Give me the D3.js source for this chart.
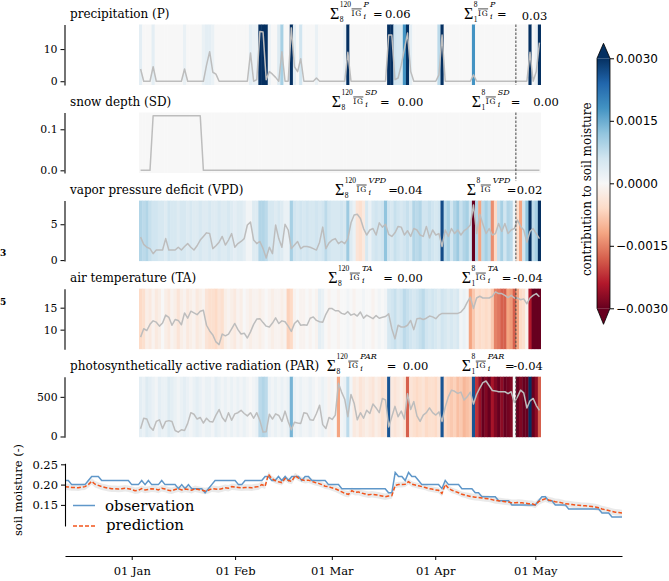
<!DOCTYPE html>
<html>
<head>
<meta charset="utf-8">
<script src="https://cdn.jsdelivr.net/npm/d3@7"></script>
<style>
  body { margin: 0; background: #fff; }
  svg text { font-family: "DejaVu Serif", serif; fill: #000; }
</style>
</head>
<body>
<svg id="fig" width="669" height="581"></svg>
<script>
// ---------- driver series: one value per day of the 128-day window ----------
const precipitation = [3.8,0,0,0,4.5, 0,0,0,0,0,0,0,0,0, 3.8, 0,0,0,0,0,0, 5,9.2,2.8,2.2,
  0,0,0,0,0,0,0,0,0,0, 8.8,0,0.5,15.5,15.3,0.5,3,2.2,1.2,0,9.2,0,0,16.6,4.5,3,7, 0,0,0,0, 1,
  0,0,0,0,0,0,0,0,0, 9, 0,0,0,0,0,0,0,0,0,0,0,0, 14.4,14.4,0.5,1,5,10,15,3,
  0,0,0,0,0,0,0,0, 2,14.4, 0,0,0,0,0,0,0,0,0, 2, 0,0,0,0,0,0,0,0,0,0,0,0,0,0,0,0,0, 9,0,3,12];

const snowDepth = [0,0,0,0,0.133,0.133,0.133,0.133,0.133,0.133,
  0.133,0.133,0.133,0.133,0.133,0.133,0.133,0.133,0.133,0.133,
  0,0,0,0,0,0,0,0,0,0, 0,0,0,0,0,0,0,0,0,0, 0,0,0,0,0,0,0,0,0,0,
  0,0,0,0,0,0,0,0,0,0, 0,0,0,0,0,0,0,0,0,0, 0,0,0,0,0,0,0,0,0,0,
  0,0,0,0,0,0,0,0,0,0, 0,0,0,0,0,0,0,0,0,0, 0,0,0,0,0,0,0,0,0,0,
  0,0,0,0,0,0,0,0,0,0, 0,0,0,0,0,0,0,0];

const vaporPressureDeficit = [3.2,2.2,1.8,1.6,0.9,1.4,1.4,1.4,3.0,1.4,
  1.4,1.4,1.8,1.4,1.9,2.3,1.8,1.4,2.0,2.8, 3.3,3.8,3.7,1.6,2.0,2.5,3.3,2.1,2.8,3.7,
  1.8,2.3,2.6,3.0,4.9,5.3,2.8,2.3,2.6,1.6, 0.3,1.8,0.9,4.9,3.0,1.8,5.0,4.2,1.6,2.1,
  2.6,1.6,1.9,1.9,1.8,1.6,1.4,2.5,4.6,1.6, 2.4,2.8,3.0,2.3,2.6,2.3,3.0,5.2,6.3,6.4,
  5.8,4.4,3.5,4.2,4.4,3.5,5.2,4.6,5.0,3.6, 3.3,3.8,4.7,4.6,3.5,4.1,3.3,4.4,4.2,3.5,
  3.3,4.7,3.1,4.2,3.5,3.7,1.9,4.2,3.3,4.4, 3.7,4.2,3.5,4.1,4.4,4.9,7.7,3.7,6.4,5.0,
  3.7,4.4,3.5,3.7,5.1,4.0,5.1,3.7,4.2,4.4, 5.6,4.7,4.2,2.5,4.0,4.4,3.7,3.0];

const airTemperature = [8.3,10.2,9.8,11.2,12.0,11.7,10.8,11.5,13.3,12.8,
  11.0,12.3,12.1,11.1,13.8,12.6,14.2,13.8,13.4,14.2, 14.4,11.0,9.7,8.8,7.2,6.6,9.0,8.6,9.0,10.2,
  11.4,10.0,9.0,9.2,8.1,9.5,11.2,12.4,12.5,11.6, 10.8,10.6,11.5,12.7,11.4,12.0,11.8,10.8,9.6,11.4,
  12.1,11.0,11.1,11.0,12.6,12.9,12.1,11.8,11.7,13.5, 14.8,14.8,14.3,14.3,13.7,13.5,14.1,13.3,13.6,13.1,
  14.0,12.6,13.3,12.9,12.5,13.2,12.6,12.8,13.0,13.6, 10.2,7.9,11.0,10.6,10.6,11.0,12.1,10.0,12.5,12.6,
  12.3,12.6,13.1,12.9,12.5,13.3,13.7,13.7,13.7,13.7, 13.7,13.7,14.0,14.8,16.2,17.4,14.8,17.2,17.6,17.2,
  17.2,17.2,17.6,18.6,18.2,18.2,17.8,17.3,17.8,17.2, 17.2,16.8,17.0,15.9,17.2,17.8,18.2,17.5];

const activeRadiation = [97,230,220,120,80,190,210,100,190,200,
  190,75,55,85,76,165,300,280,220,240, 170,230,190,182,270,340,240,190,300,205,
  285,300,330,290,260,300,230,300,200,55, 60,280,220,285,265,190,320,190,85,180,
  170,165,300,290,210,205,290,394,150,100, 240,215,270,670,560,470,250,530,420,210,
  300,230,330,290,410,360,300,480,460,120, 250,380,250,320,220,540,340,440,260,190,
  270,300,360,300,270,310,190,370,500,585, 570,543,560,460,500,560,410,530,610,680,
  700,640,580,575,564,564,564,540,564,430, 500,585,550,360,450,480,390,330];

// ---------- per-day contributions to soil moisture, in units of 1e-4 ----------
const igPrecipitation = [3,0,0,0,3,0,0,0,0,0, 0,0,0,0,2,0,0,0,0,0, 2,3,3,2,0,0,0,0,0,0,
  0,0,0,0,0,3,2,2,45,45, 45,2,0,0,4,10,0,0,40,3, 0,6,0,0,0,0,2,0,0,0,
  0,0,0,0,0,2,40,0,0,0, 0,0,0,0,0,0,0,0,0,40, 40,6,5,5,18,40,3,0,0,0,
  0,0,0,0,0,8,40,0,0,0, 0,0,0,0,0,0,18,0,0,0, 0,0,0,0,0,0,0,0,0,0, 0,0,0,0,40,0,2,40];

const igSnowDepth = [0,0,0,0,0,0,0,0,0,0, 0,0,0,0,0,0,0,0,0,0, 0,0,0,0,0,0,0,0,0,0,
  0,0,0,0,0,0,0,0,0,0, 0,0,0,0,0,0,0,0,0,0, 0,0,0,0,0,0,0,0,0,0, 0,0,0,0,0,0,0,0,0,0,
  0,0,0,0,0,0,0,0,0,0, 0,0,0,0,0,0,0,0,0,0, 0,0,0,0,0,0,0,0,0,0, 0,0,0,0,0,0,0,0,0,0,
  0,0,0,0,0,0,0,0,0,0, 0,0,0,0,0,0,0,0];

const igVaporPressureDeficit = [9,8,9,7,6,6,5,5,4,6, 5,5,4,5,5,4,5,4,4,5, 4,4,5,4,4,5,4,4,5,4,
  3,4,4,3,1,1,4,4,9,9, 8,5,5,4,5,4,2,2,10,6, 5,6,5,6,5,5,6,5,6,8, 6,5,5,5,6,5,11,4,2,-4,
  -5,-3,5,2,5,6,5,6,12,6, 5,7,6,5,6,7,5,9,8,9, 6,6,7,6,5,6,27,8,10,6,
  9,11,7,9,10,6,-30,9,-12,8, 10,8,-14,-6,7,10,6,9,8,1, -5,-12,6,12,32,8,10,32];

const igAirTemperature = [-6,-5,-2,-3,-1,-3,-2,0,-2,-3, -1,-2,-4,-2,-1,-3,-2,-1,-3,-2,
  -1,-4,-5,-5,-6,-4,-5,-2,-1,-2, -3,-1,-2,0,-1,-2,-1,-1,-2,-1, 0,-1,-2,-1,-1,-2,-1,-7,-6,-1,
  0,-1,-1,0,-1,0,-1,3,2,0, -1,0,0,-1,0,0,1,0,-1,0, 0,1,0,0,-1,0,1,0,1,5,
  6,7,5,6,8,7,6,5,6,7, 8,6,5,6,5,4,6,5,4,5, 4,5,1,2,1,-12,-8,-5,-6,-5,
  -6,-5,-8,-15,-16,-18,-18,-12,-13,-18, -12,-6,-5,-1,-24,-30,-30,-30];

const igActiveRadiation = [3,2,4,3,2,1,3,2,2,4, 3,2,1,2,3,2,1,2,3,2, 1,2,2,1,3,2,1,2,1,2,
  1,2,1,2,1,0,1,2,8,9, 8,2,1,2,1,2,1,2,14,2, 1,2,1,1,2,1,0,1,2,1, -1,1,0,-12,1,2,8,1,-3,-2,
  -4,-3,-2,-3,-4,-2,-3,-5,-4,26, -3,-4,-3,-2,-4,-18,-4,-5,-6,-5, -4,-6,-5,-5,-6,-4,26,-6,-7,-8,
  -7,-9,-8,-10,-9,-8,26,-22,-26,-30, -28,-30,-25,-28,-30,-27,-30,-29,-28,0, -30,-28,-30,-30,32,-30,-27,-18];

// summed contributions printed above each panel (lags 8-120 and 1-8)
const sumLongLag  = ["0.06", "0.00", "0.04", "0.00", "0.00"];
const sumShortLag = ["0.03", "0.00", "0.02", "-0.04", "-0.04"];

// ---------- daily soil moisture, starting 12 Dec 2019 ----------
const soilObserved = [.21,.21,.20,.20,.20,.20,.20,.21,.22,.22, .22,.21,.21,.21,.21,.21,.21,.21,.21,.21,
  .20,.20,.20,.21,.20,.21,.20,.20,.20,.21, .20,.20,.20,.20,.19,.20,.19,.20,.19,.19,
  .19,.19,.18,.19,.20,.21,.21,.21,.21,.21, .21,.21,.20,.20,.21,.21,.21,.21,.21,.21,
  .22,.22,.21,.21,.22,.21,.22,.21,.22,.22, .22,.21,.22,.22,.21,.21,.21,.21,.21,.20,
  .20,.20,.20,.19,.19,.19,.19,.19,.19,.19, .19,.19,.19,.19,.19,.19,.19,.18,.18,.23,
  .22,.22,.21,.23,.22,.22,.21,.20,.20,.20, .20,.20,.20,.19,.21,.20,.20,.20,.20,.19,
  .19,.19,.19,.18,.18,.17,.17,.17,.17,.17, .16,.16,.16,.16,.15,.15,.15,.15,.15,.15,
  .15,.15,.16,.17,.17,.16,.16,.15,.15,.15, .15,.14,.14,.14,.14,.14,.14,.14,.14,.14,
  .14,.13,.13,.13,.12,.12,.12,.12];

const soilPredicted = [.195,.194,.193,.193,.192,.194,.195,.200,.208,.201, .198,.195,.193,.191,.190,.190,.189,.190,.191,.190,
  .188,.185,.186,.190,.187,.188,.190,.189,.187,.191, .189,.186,.185,.188,.190,.187,.189,.188,.186,.190,
  .188,.186,.184,.186,.190,.189,.188,.190,.192,.191, .195,.194,.193,.192,.193,.193,.192,.194,.195,.200,
  .196,.225,.215,.210,.207,.205,.215,.210,.208,.222, .216,.212,.210,.211,.208,.205,.203,.200,.196,.195,
  .192,.190,.186,.182,.178,.176,.185,.181,.182,.179, .177,.175,.176,.175,.174,.172,.170,.172,.173,.198,
  .200,.200,.201,.207,.201,.199,.197,.195,.193,.190, .189,.187,.186,.178,.200,.191,.186,.183,.180,.176,
  .174,.172,.170,.169,.168,.167,.166,.165,.163,.161, .160,.159,.158,.157,.155,.155,.156,.155,.154,.153,
  .153,.150,.158,.162,.165,.162,.160,.158,.157,.155, .153,.152,.151,.150,.149,.148,.148,.147,.146,.145,
  .143,.140,.138,.136,.134,.132,.131,.130];

// half-width of the prediction band, in units of 1e-3
const predictionSpread = [8,8,8,8,8,8,8,8,8,8, 8,8,8,8,8,8,8,8,8,8, 8,8,8,8,8,8,8,8,8,8,
  8,8,8,8,8,8,8,8,8,8, 8,8,8,8,8,8,8,8,8,8, 8,8,8,8,8,8,8,8,8,8,
  7,7,7,7,7,7,7,7,7,7, 7,7,7,7,7,7,7,7,7,7, 7,8,8,8,8,8,8,8,8,8,
  8,8,8,8,8,8,8,8,8,7, 7,7,7,7,7,7,7,7,7,7, 7,7,7,7,7,7,7,7,7,7,
  7,8,8,8,8,8,8,8,8,8, 8,8,8,8,8,8,8,8,8,8, 8,8,8,8,8,8,8,8,8,8,
  8,8,8,8,8,8,8,8,8,8, 8,8,8,8,8,8,8,8];

const monthTicks = ["2020-01-01", "2020-02-01", "2020-03-01", "2020-04-01", "2020-05-01"];
const colorbarTicks = [-0.003, -0.0015, 0, 0.0015, 0.003];

// ---------- drawing ----------
const svg = d3.select("#fig");
const nCells = precipitation.length;
const cellX = d3.scaleLinear().domain([0, nCells]).range([139, 541]);

// diverging red-white-blue map, positive contributions in blue
const rdbuStops = ["#67001f","#b2182b","#d6604d","#f4a582","#fddbc7","#f7f7f7",
                   "#d1e5f0","#92c5de","#4393c3","#2166ac","#053061"];
const contribColor = d3.scaleLinear()
  .domain(d3.range(rdbuStops.length).map(i => -0.003 + 0.006 * i / (rdbuStops.length - 1)))
  .range(rdbuStops).interpolate(d3.interpolateRgb).clamp(true);

const panels = [
  { title: "precipitation (P)", name: "P", values: precipitation, ig: igPrecipitation,
    domain: [-1.17, 17.65], ticks: [0, 10], fmt: d3.format("d"),
    pos: [330, 373, 385, 464, 497, 521.7], valDy: 2.2, lower2: true },
  { title: "snow depth (SD)", name: "SD", values: snowDepth, ig: igSnowDepth,
    domain: [-0.0066, 0.1408], ticks: [0, 0.1], fmt: d3.format(".1f"),
    pos: [331.7, 380, 397.7, 471.7, 510.7, 533.3], valDy: 0, lower2: true, vlineExtra: 8 },
  { title: "vapor pressure deficit (VPD)", name: "VPD", values: vaporPressureDeficit, ig: igVaporPressureDeficit,
    domain: [-0.14, 8.3], ticks: [0, 5], fmt: d3.format("d"),
    pos: [335, 388.3, 397, 466.7, 506.7, 516.7], valDy: 0, lower2: false },
  { title: "air temperature (TA)", name: "TA", values: airTemperature, ig: igAirTemperature,
    domain: [5.56, 19.33], ticks: [10, 15], fmt: d3.format("d"),
    pos: [328.3, 383.3, 397.3, 461.7, 501.7, 513.3], valDy: 0, lower2: true },
  { title: "photosynthetically active radiation (PAR)", name: "PAR", values: activeRadiation, ig: igActiveRadiation,
    domain: [-9, 754], ticks: [0, 500], fmt: d3.format("d"),
    pos: [326.7, 386.7, 402.7, 461.7, 505, 513.3], valDy: 0, lower2: true }
];

function drawSum(g, x, yb, lo, hi, name, eqX, valX, val, valDy, showLower) {
  const t = g.append("g");
  t.append("text").attr("x", x).attr("y", yb + 0.5)
    .style("font-family", "Liberation Serif").attr("font-size", 16).text("Σ");
  const hiT = t.append("text").attr("x", x + 9.8).attr("y", yb - 11)
    .style("font-family", "Liberation Serif").attr("font-size", 7.5).text(hi);
  let loW = 0;
  if (showLower) {
    const loT = t.append("text").attr("x", x + 9.8).attr("y", yb + 3.4)
      .style("font-family", "Liberation Serif").attr("font-size", 7.5).text(lo);
    loW = loT.node().getComputedTextLength();
  }
  const igX = x + 9.8 + Math.max(hiT.node().getComputedTextLength(), loW) + 0.5;
  const ig = t.append("text").attr("x", igX).attr("y", yb - 2)
    .attr("font-size", 7.5).attr("letter-spacing", 0.8).text("IG");
  const igW = ig.node().getComputedTextLength();
  t.append("line").attr("x1", igX).attr("x2", igX + igW - 0.5)
    .attr("y1", yb - 9.3).attr("y2", yb - 9.3).attr("stroke", "#000").attr("stroke-width", 0.7);
  const nx = igX + igW + 1.5;
  t.append("text").attr("x", nx).attr("y", yb - 11).attr("font-size", 8)
    .attr("font-style", "italic").text(name);
  if (showLower) {
    t.append("text").attr("x", nx).attr("y", yb + 1).attr("font-size", 8)
      .attr("font-style", "italic").text("i");
  }
  t.append("text").attr("x", eqX).attr("y", yb).attr("font-size", 11.5).text("=");
  t.append("text").attr("x", valX).attr("y", yb + valDy).attr("font-size", 11.5).text(val);
}

panels.forEach((p, k) => {
  const y0 = 24.5 + 88.05 * k, h = 60.5;
  const y = d3.scaleLinear().domain(p.domain).range([y0 + h, y0]);
  const g = svg.append("g");
  const yb = y0 - 6.3;

  // summed-contribution annotations (drawn first so the heatmap sits above them)
  drawSum(g, p.pos[0], yb, "8", "120", p.name, p.pos[1], p.pos[2], sumLongLag[k], 0, true);
  drawSum(g, p.pos[3], yb, "1", "8", p.name, p.pos[4], p.pos[5], sumShortLag[k], p.valDy, p.lower2);

  // heatmap of daily contributions
  g.append("g").selectAll("rect").data(p.ig).join("rect")
    .attr("x", (d, i) => cellX(i))
    .attr("y", y0)
    .attr("width", (d, i) => cellX(i + 1) - cellX(i) + (i < nCells - 1 ? 0.4 : 0))
    .attr("height", h)
    .attr("fill", d => contribColor(d * 1e-4));

  // driver time series
  g.append("path").datum(p.values)
    .attr("fill", "none").attr("stroke", "#bdbdbd").attr("stroke-width", 1.5)
    .attr("stroke-linejoin", "round")
    .attr("d", d3.line().x((d, i) => cellX(i + 0.5)).y(d => y(d)));

  // boundary between the two lag windows
  const xb = cellX(nCells - 8);
  g.append("line").attr("x1", xb).attr("x2", xb)
    .attr("y1", y0).attr("y2", y0 + h + (p.vlineExtra || 0))
    .attr("stroke", "#444").attr("stroke-width", 1).attr("stroke-dasharray", "2.5,1.5");

  // left axis
  const ax = g.append("g").attr("transform", "translate(64.5,0)")
    .call(d3.axisLeft(y).tickValues(p.ticks).tickFormat(p.fmt).tickSize(4).tickSizeOuter(0).tickPadding(3));
  ax.select(".domain").attr("stroke", "#000").attr("stroke-width", 1.1);
  ax.selectAll(".tick line").attr("stroke", "#000").attr("stroke-width", 1);
  ax.selectAll(".tick text").style("font-family", "DejaVu Serif").attr("font-size", 10.8).attr("fill", "#000");

  g.append("text").attr("x", 70).attr("y", yb).attr("font-size", 12).text(p.title);
});

// small glyphs at the left margin
svg.append("text").attr("x", 0).attr("y", 255.5)
  .attr("font-size", 9).attr("font-weight", "bold").text("3");
svg.append("text").attr("x", 0).attr("y", 305)
  .attr("font-size", 9).attr("font-weight", "bold").text("5");

// ---------- colorbar ----------
const cbX0 = 597, cbX1 = 610, cbTop = 58.3, cbBot = 308.3;
const cbY = d3.scaleLinear().domain([-0.003, 0.003]).range([cbBot, cbTop]);
const defs = svg.append("defs");
const grad = defs.append("linearGradient").attr("id", "cbgrad")
  .attr("x1", 0).attr("y1", 1).attr("x2", 0).attr("y2", 0);
d3.range(0, 1.0001, 0.02).forEach(t => {
  grad.append("stop").attr("offset", t).attr("stop-color", contribColor(-0.003 + 0.006 * t));
});
const cb = svg.append("g");
cb.append("rect").attr("x", cbX0).attr("y", cbTop).attr("width", cbX1 - cbX0)
  .attr("height", cbBot - cbTop).attr("fill", "url(#cbgrad)");
const cbMid = (cbX0 + cbX1) / 2;
cb.append("path").attr("d", `M${cbX0},${cbTop}L${cbMid},${cbTop - 15}L${cbX1},${cbTop}Z`)
  .attr("fill", contribColor(0.003));
cb.append("path").attr("d", `M${cbX0},${cbBot}L${cbMid},${cbBot + 16}L${cbX1},${cbBot}Z`)
  .attr("fill", contribColor(-0.003));
cb.append("path")
  .attr("d", `M${cbX0},${cbTop}L${cbMid},${cbTop - 15}L${cbX1},${cbTop}L${cbX1},${cbBot}L${cbMid},${cbBot + 16}L${cbX0},${cbBot}Z`)
  .attr("fill", "none").attr("stroke", "#000").attr("stroke-width", 0.8);
const cbAx = cb.append("g").attr("transform", `translate(${cbX1},0)`)
  .call(d3.axisRight(cbY).tickValues(colorbarTicks).tickFormat(d3.format(".4f")).tickSize(4).tickPadding(2));
cbAx.select(".domain").remove();
cbAx.selectAll(".tick line").attr("stroke", "#000");
cbAx.selectAll(".tick text").style("font-family", "DejaVu Sans").attr("font-size", 12).attr("fill", "#000");
cb.append("text").attr("transform", `translate(591,${(cbTop + cbBot) / 2 + 6}) rotate(-90)`)
  .attr("text-anchor", "middle").attr("font-size", 12).text("contribution to soil moisture");

// ---------- soil moisture panel ----------
const startDay = new Date(2019, 11, 12);
const days = soilObserved.map((d, i) => d3.timeDay.offset(startDay, i));
const xTime = d3.scaleTime().domain([days[0], days[days.length - 1]]).range([65, 622]);
const ySoil = d3.scaleLinear().domain([0.098, 0.2525]).range([526, 463.3]);
const sm = svg.append("g");

sm.append("path").datum(soilPredicted)
  .attr("fill", "#d9d9d9").attr("fill-opacity", 0.55)
  .attr("d", d3.area().x((d, i) => xTime(days[i]))
    .y0((d, i) => ySoil(d - predictionSpread[i] * 1e-3))
    .y1((d, i) => ySoil(d + predictionSpread[i] * 1e-3)));

sm.append("path").datum(soilObserved)
  .attr("fill", "none").attr("stroke", "#5f97c9").attr("stroke-width", 1.5)
  .attr("d", d3.line().x((d, i) => xTime(days[i])).y(d => ySoil(d)));
sm.append("path").datum(soilPredicted)
  .attr("fill", "none").attr("stroke", "#f2541b").attr("stroke-width", 1.5)
  .attr("stroke-dasharray", "4,2")
  .attr("d", d3.line().x((d, i) => xTime(days[i])).y(d => ySoil(d)));

const smY = sm.append("g").attr("transform", "translate(65,0)")
  .call(d3.axisLeft(ySoil).tickValues([0.15, 0.20, 0.25]).tickFormat(d3.format(".2f"))
    .tickSize(4).tickSizeOuter(0).tickPadding(3));
const smX = sm.append("g").attr("transform", "translate(0,556)")
  .call(d3.axisBottom(xTime).tickValues(monthTicks.map(s => d3.isoParse(s + "T00:00:00")))
    .tickFormat(d3.timeFormat("%d %b")).tickSize(4).tickSizeOuter(0).tickPadding(7));
[smY, smX].forEach(a => {
  a.select(".domain").attr("stroke", "#000").attr("stroke-width", 1.1);
  a.selectAll(".tick line").attr("stroke", "#000");
  a.selectAll(".tick text").style("font-family", "DejaVu Serif").attr("font-size", 11.5).attr("fill", "#000");
});
sm.append("text").attr("transform", "translate(22,490) rotate(-90)")
  .attr("text-anchor", "middle").attr("font-size", 11.5).text("soil moisture (-)");

// legend
const lg = sm.append("g");
lg.append("line").attr("x1", 73).attr("x2", 95).attr("y1", 505.5).attr("y2", 505.5)
  .attr("stroke", "#5f97c9").attr("stroke-width", 1.5);
lg.append("text").attr("x", 105).attr("y", 510.5).attr("font-size", 15).text("observation");
lg.append("line").attr("x1", 73).attr("x2", 95).attr("y1", 526).attr("y2", 526)
  .attr("stroke", "#f2541b").attr("stroke-width", 1.5).attr("stroke-dasharray", "4,2");
lg.append("text").attr("x", 106).attr("y", 530).attr("font-size", 15).text("prediction");
</script>
</body>
</html>
